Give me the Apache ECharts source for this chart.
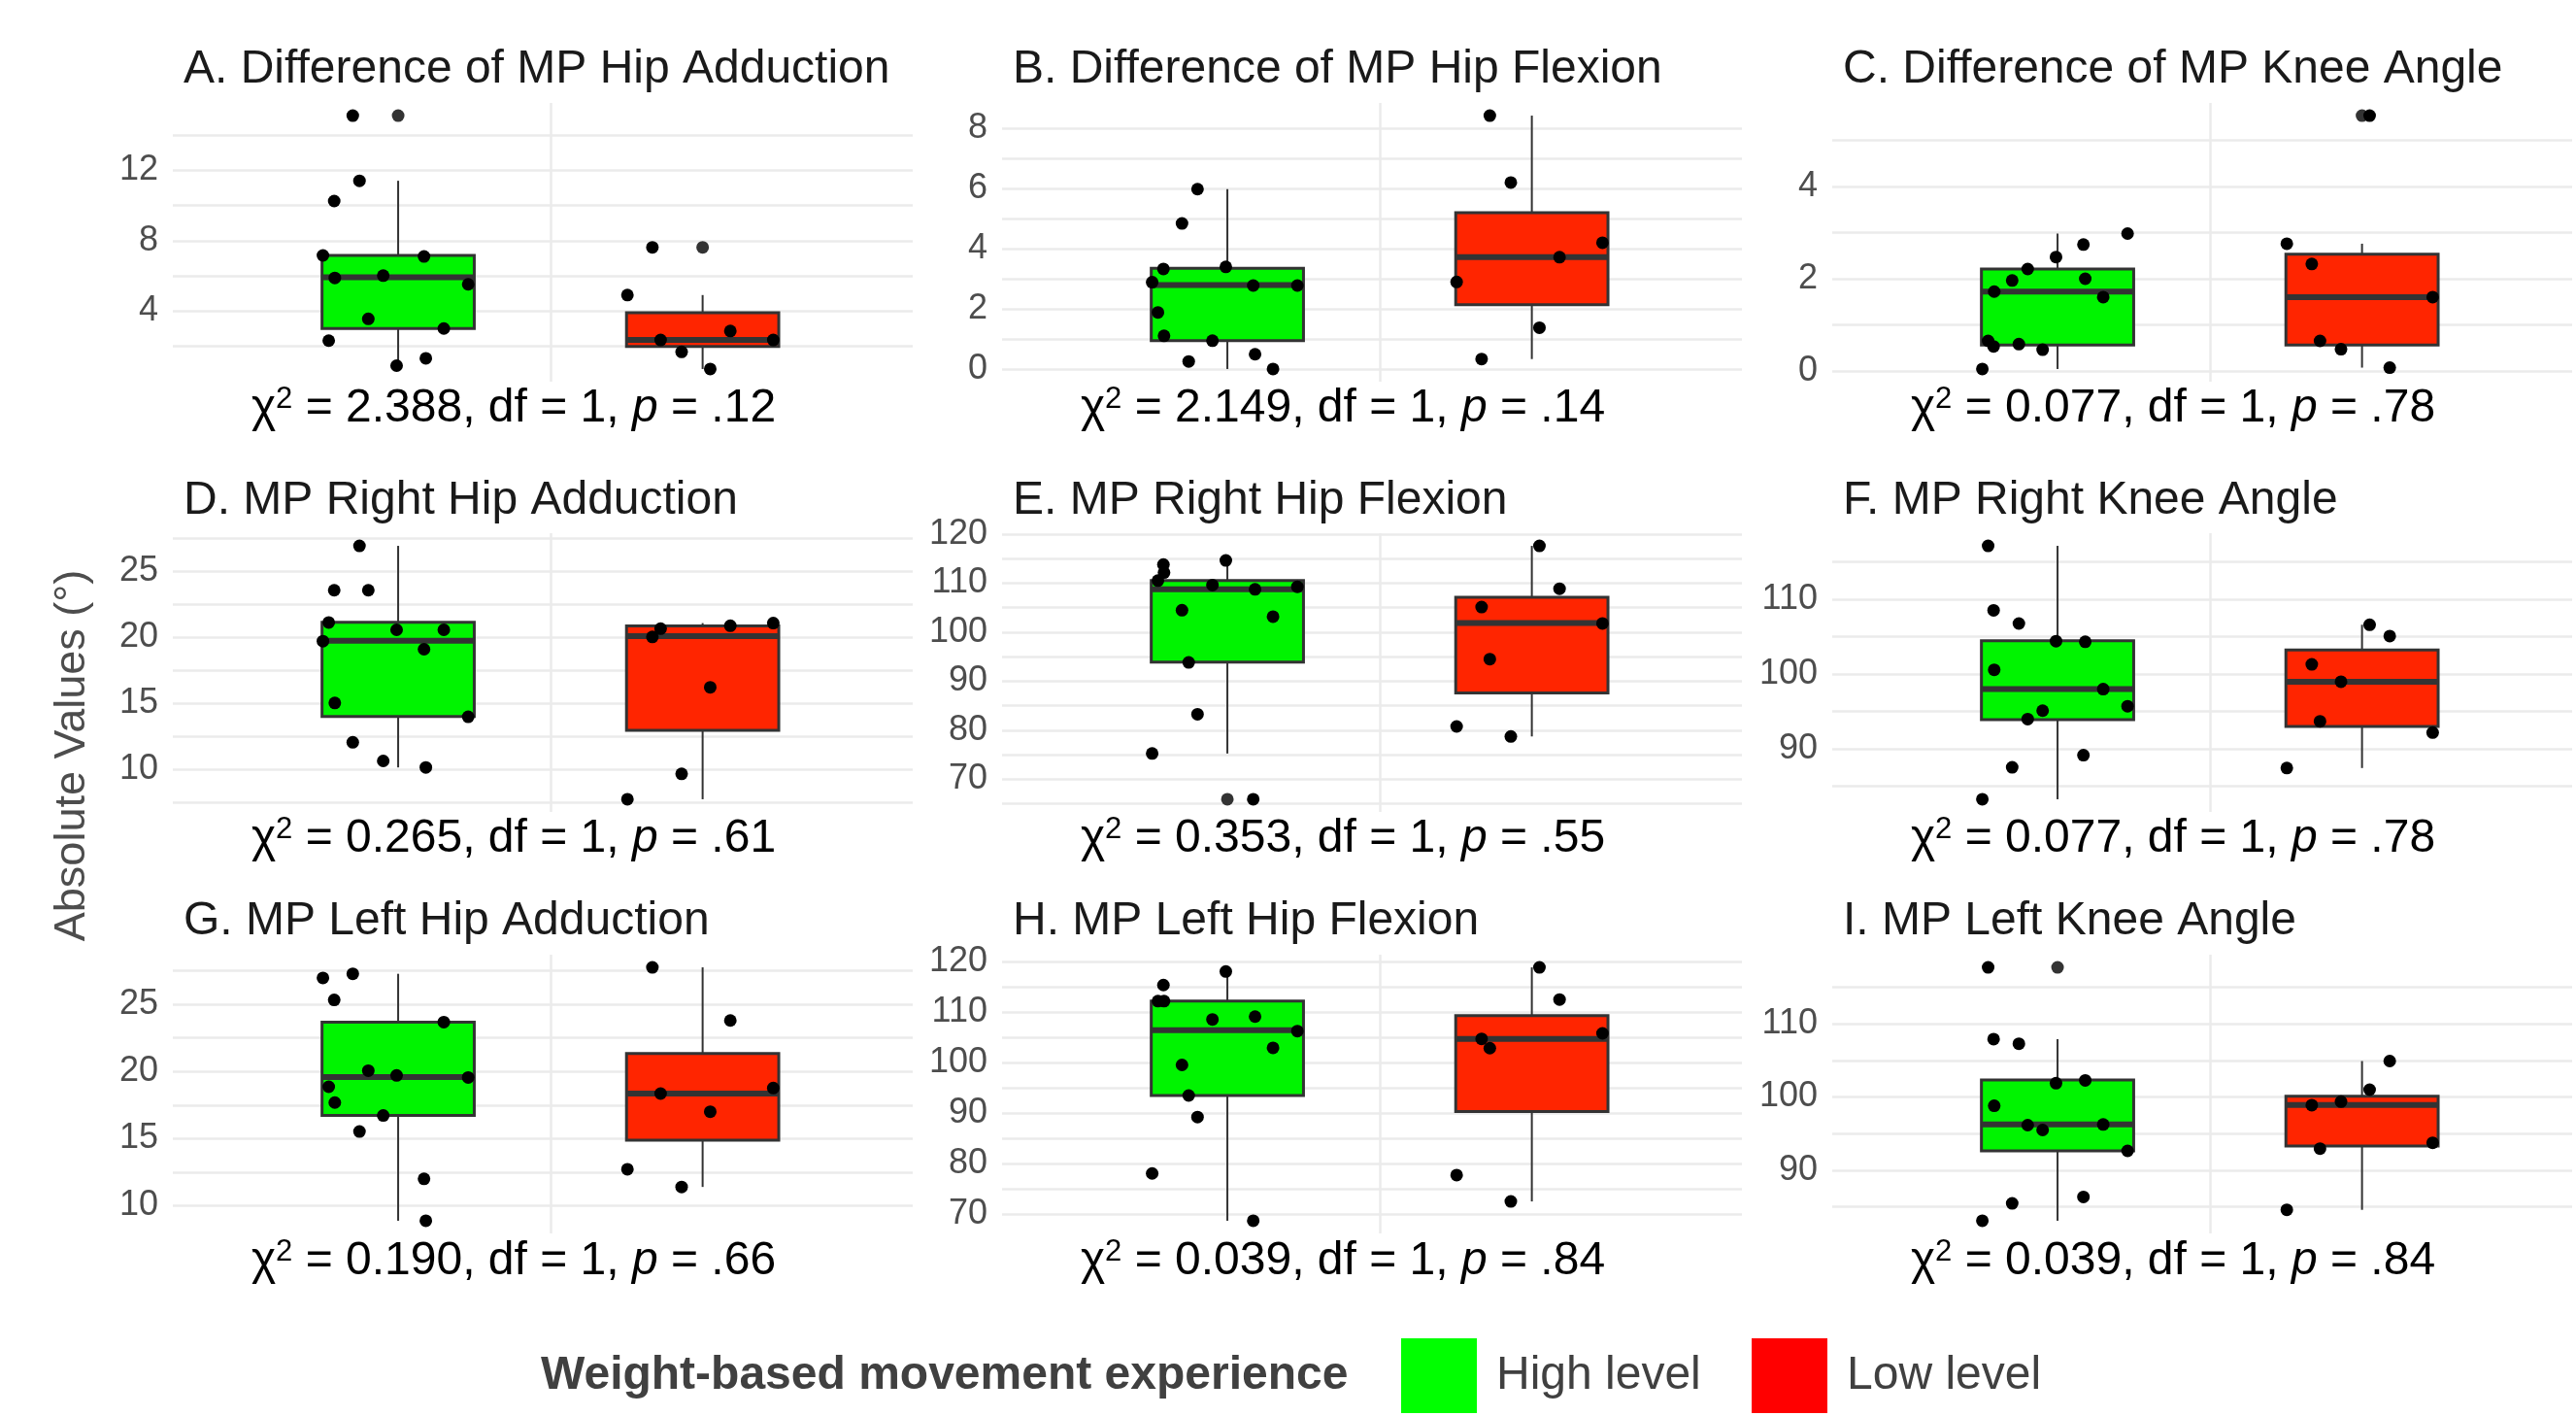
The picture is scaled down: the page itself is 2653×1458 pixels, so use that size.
<!DOCTYPE html>
<html>
<head>
<meta charset="utf-8">
<title>MP boxplots</title>
<script src="https://cdn.jsdelivr.net/npm/echarts@6/dist/echarts.min.js"></script>
<style>
html, body { margin: 0; padding: 0; background: #fff; }
#main { width: 2653px; height: 1458px; }
</style>
</head>
<body>
<div id="main"></div>
<script>
// groups (x position 1 = high, 2 = low)
var groups = ['High level', 'Low level'];
var legendTitle = 'Weight-based movement experience';
var yTitle = 'Absolute Values (°)';

// A. Difference of MP Hip Adduction
var aHigh = [15.1, 11.4, 10.25, 7.16, 7.1, 5.88, 6.01, 5.52, 3.56, 3.01, 2.32, 1.32, 0.9];
var aHighX = [-0.149, -0.127, -0.21, -0.247, 0.085, -0.208, -0.049, 0.23, -0.098, 0.15, -0.228, 0.091, -0.005];
var aLow = [7.62, 4.91, 2.87, 2.36, 2.36, 1.68, 0.71];
var aLowX = [-0.165, -0.247, 0.091, -0.138, 0.232, -0.069, 0.025];
var aBox = [[0.9, 3.01, 5.92, 7.16, 11.4], [0.71, 1.99, 2.36, 3.91, 4.91]];
var aOut = [[15.1], [7.62]];
var aTicks = [4, 8, 12];
var aMinor = [2, 6, 10, 14];

// B. Difference of MP Hip Flexion
var bHigh = [5.99, 4.85, 3.34, 3.41, 2.9, 2.79, 2.79, 1.9, 1.12, 0.96, 0.51, 0.27, 0.02];
var bHighX = [-0.098, -0.149, -0.21, -0.005, -0.247, 0.085, 0.23, -0.228, -0.208, -0.049, 0.091, -0.127, 0.15];
var bLow = [8.43, 6.21, 4.21, 3.73, 2.91, 1.39, 0.35];
var bLowX = [-0.138, -0.069, 0.232, 0.091, -0.247, 0.025, -0.165];
var bBox = [[0.02, 0.96, 2.81, 3.36, 5.99], [0.35, 2.15, 3.73, 5.21, 8.43]];
var bOut = [[], []];
var bTicks = [0, 2, 4, 6, 8];
var bMinor = [1, 3, 5, 7];

// C. Difference of MP Knee Angle
var cHigh = [2.98, 2.74, 2.47, 2.21, 1.96, 2.0, 1.72, 1.6, 0.65, 0.53, 0.58, 0.46, 0.04];
var cHighX = [0.23, 0.085, -0.005, -0.098, -0.149, 0.091, -0.208, 0.15, -0.228, -0.21, -0.127, -0.049, -0.247];
var cLow = [5.54, 2.76, 2.32, 1.6, 0.65, 0.47, 0.07];
var cLowX = [0.025, -0.247, -0.165, 0.232, -0.138, -0.069, 0.091];
var cBox = [[0.04, 0.56, 1.72, 2.21, 2.98], [0.07, 0.56, 1.6, 2.53, 2.76]];
var cOut = [[], [5.54]];
var cTicks = [0, 2, 4];
var cMinor = [1, 3, 5];

// D. MP Right Hip Adduction
var dHigh = [26.95, 23.59, 23.59, 21.15, 20.59, 20.59, 19.73, 19.12, 15.05, 14.0, 12.07, 10.66, 10.17];
var dHighX = [-0.127, -0.21, -0.098, -0.228, -0.005, 0.15, -0.247, 0.085, -0.208, 0.23, -0.149, -0.049, 0.091];
var dLow = [21.1, 20.9, 20.68, 20.05, 16.24, 9.68, 7.76];
var dLowX = [0.232, 0.091, -0.138, -0.165, 0.025, -0.069, -0.247];
var dBox = [[10.17, 14.02, 19.76, 21.17, 26.95], [7.76, 12.98, 20.12, 20.88, 21.1]];
var dOut = [[], []];
var dTicks = [10, 15, 20, 25];
var dMinor = [7.5, 12.5, 17.5, 22.5, 27.5];

// E. MP Right Hip Flexion
var eHigh = [65.93, 114.6, 113.77, 112.13, 110.49, 109.57, 108.71, 109.24, 104.45, 103.14, 93.82, 83.25, 75.25];
var eHighX = [0.085, -0.005, -0.21, -0.208, -0.228, -0.049, 0.091, 0.23, -0.149, 0.15, -0.127, -0.098, -0.247];
var eLow = [117.57, 108.84, 105.1, 101.76, 94.48, 80.76, 78.73];
var eLowX = [0.025, 0.091, -0.165, 0.232, -0.138, -0.247, -0.069];
var eBox = [[75.25, 93.88, 108.71, 110.49, 114.6], [78.73, 87.59, 101.82, 107.07, 117.57]];
var eOut = [[65.93], []];
var eTicks = [70, 80, 90, 100, 110, 120];
var eMinor = [65, 75, 85, 95, 105, 115];

// F. MP Right Knee Angle
var fHigh = [117.1, 108.49, 106.73, 104.37, 104.28, 100.54, 97.96, 95.68, 95.08, 93.96, 89.14, 87.51, 83.25];
var fHighX = [-0.228, -0.21, -0.127, -0.005, 0.091, -0.208, 0.15, 0.23, -0.049, -0.098, 0.085, -0.149, -0.247];
var fLow = [106.56, 105.05, 101.27, 98.95, 93.66, 92.15, 87.42];
var fLowX = [0.025, 0.091, -0.165, -0.069, -0.138, 0.232, -0.247];
var fBox = [[83.25, 93.87, 97.96, 104.41, 117.1], [87.42, 92.97, 98.95, 103.2, 106.56]];
var fOut = [[], []];
var fTicks = [90, 100, 110];
var fMinor = [85, 95, 105, 115];

// G. MP Left Hip Adduction
var gHigh = [27.28, 26.97, 25.33, 23.68, 20.06, 19.7, 19.55, 18.86, 17.68, 16.72, 15.52, 11.99, 8.87];
var gHighX = [-0.149, -0.247, -0.21, 0.15, -0.098, -0.005, 0.23, -0.228, -0.208, -0.049, -0.127, 0.085, 0.091];
var gLow = [27.76, 23.8, 18.76, 18.35, 17.0, 12.71, 11.39];
var gLowX = [-0.165, 0.091, 0.232, -0.138, 0.025, -0.247, -0.069];
var gBox = [[8.87, 16.72, 19.58, 23.68, 27.28], [11.39, 14.87, 18.35, 21.33, 27.76]];
var gOut = [[], []];
var gTicks = [10, 15, 20, 25];
var gMinor = [12.5, 17.5, 22.5, 27.5];

// H. MP Left Hip Flexion
var hHigh = [118.03, 115.35, 112.17, 112.17, 109.11, 108.54, 106.24, 102.93, 99.55, 93.5, 89.24, 78.09, 68.73];
var hHighX = [-0.005, -0.21, -0.228, -0.208, 0.091, -0.049, 0.23, 0.15, -0.149, -0.127, -0.098, -0.247, 0.085];
var hLow = [118.85, 112.48, 105.8, 104.71, 102.87, 77.77, 72.55];
var hLowX = [0.025, 0.091, 0.232, -0.165, -0.138, -0.247, -0.069];
var hBox = [[68.73, 93.5, 106.43, 112.17, 118.03], [72.55, 90.32, 104.71, 109.3, 118.85]];
var hOut = [[], []];
var hTicks = [70, 80, 90, 100, 110, 120];
var hMinor = [75, 85, 95, 105, 115];

// I. MP Left Knee Angle
var iHigh = [117.69, 107.89, 107.27, 101.87, 102.26, 98.79, 96.15, 95.49, 96.24, 92.64, 86.35, 85.47, 83.1];
var iHighX = [-0.228, -0.21, -0.127, -0.005, 0.091, -0.208, -0.098, -0.049, 0.15, 0.23, 0.085, -0.149, -0.247];
var iLow = [104.9, 100.99, 99.36, 98.88, 93.74, 92.95, 84.59];
var iLowX = [0.091, 0.025, -0.069, -0.165, 0.232, -0.138, -0.247];
var iBox = [[83.1, 92.64, 96.24, 102.31, 107.89], [84.59, 93.3, 98.92, 100.11, 104.9]];
var iOut = [[117.69], []];
var iTicks = [90, 100, 110];
var iMinor = [85, 95, 105, 115];

var panels = [
    { title: 'A. Difference of MP Hip Adduction', chi: '2.388', p: '.12', high: aHigh, highX: aHighX, low: aLow, lowX: aLowX, box: aBox, out: aOut, ticks: aTicks, minor: aMinor },
    { title: 'B. Difference of MP Hip Flexion', chi: '2.149', p: '.14', high: bHigh, highX: bHighX, low: bLow, lowX: bLowX, box: bBox, out: bOut, ticks: bTicks, minor: bMinor },
    { title: 'C. Difference of MP Knee Angle', chi: '0.077', p: '.78', high: cHigh, highX: cHighX, low: cLow, lowX: cLowX, box: cBox, out: cOut, ticks: cTicks, minor: cMinor },
    { title: 'D. MP Right Hip Adduction', chi: '0.265', p: '.61', high: dHigh, highX: dHighX, low: dLow, lowX: dLowX, box: dBox, out: dOut, ticks: dTicks, minor: dMinor },
    { title: 'E. MP Right Hip Flexion', chi: '0.353', p: '.55', high: eHigh, highX: eHighX, low: eLow, lowX: eLowX, box: eBox, out: eOut, ticks: eTicks, minor: eMinor },
    { title: 'F. MP Right Knee Angle', chi: '0.077', p: '.78', high: fHigh, highX: fHighX, low: fLow, lowX: fLowX, box: fBox, out: fOut, ticks: fTicks, minor: fMinor },
    { title: 'G. MP Left Hip Adduction', chi: '0.190', p: '.66', high: gHigh, highX: gHighX, low: gLow, lowX: gLowX, box: gBox, out: gOut, ticks: gTicks, minor: gMinor },
    { title: 'H. MP Left Hip Flexion', chi: '0.039', p: '.84', high: hHigh, highX: hHighX, low: hLow, lowX: hLowX, box: hBox, out: hOut, ticks: hTicks, minor: hMinor },
    { title: 'I. MP Left Knee Angle', chi: '0.039', p: '.84', high: iHigh, highX: iHighX, low: iLow, lowX: iLowX, box: iBox, out: iOut, ticks: iTicks, minor: iMinor }
];

// layout
var colLeft = [178, 1032, 1887];
var rowTop = [106, 549, 983];
var plotW = 762, plotH = 287;
var font = '"Liberation Sans", Arial, Helvetica, sans-serif';
var boxFill = ['#00F400', '#FF2500'];
var keyFill = ['#00FF00', '#FF0000'];
var gridColor = '#EBEBEB';
var boxHalf = 0.25;

var myChart = echarts.init(document.getElementById('main'));

function renderBox(params, api) {
    var x = api.value(0);
    var g = api.value(6);
    var pLo = api.coord([x, api.value(1)]);
    var pQ1 = api.coord([x, api.value(2)]);
    var pMd = api.coord([x, api.value(3)]);
    var pQ3 = api.coord([x, api.value(4)]);
    var pHi = api.coord([x, api.value(5)]);
    var half = api.size([boxHalf, 0])[0];
    var thin = { stroke: '#333333', lineWidth: 2 };
    return {
        type: 'group',
        children: [
            { type: 'line', shape: { x1: pLo[0], y1: pLo[1], x2: pQ1[0], y2: pQ1[1] }, style: thin },
            { type: 'line', shape: { x1: pQ3[0], y1: pQ3[1], x2: pHi[0], y2: pHi[1] }, style: thin },
            { type: 'rect', shape: { x: pQ3[0] - half, y: pQ3[1], width: half * 2, height: pQ1[1] - pQ3[1] },
              style: { fill: boxFill[g], stroke: '#333333', lineWidth: 3 } },
            { type: 'line', shape: { x1: pMd[0] - half, y1: pMd[1], x2: pMd[0] + half, y2: pMd[1] },
              style: { stroke: '#333333', lineWidth: 6 } }
        ]
    };
}

var grids = [], xAxes = [], yAxes = [], series = [], graphics = [];

panels.forEach(function (p, i) {
    var col = i % 3, row = Math.floor(i / 3);
    var left = colLeft[col], top = rowTop[row];
    grids.push({ left: left, top: top, width: plotW, height: plotH, containLabel: false });

    var all = p.high.concat(p.low, p.out[0], p.out[1]);
    var lo = Math.min.apply(null, all), hi = Math.max.apply(null, all);
    var pad = (hi - lo) * 0.05;

    xAxes.push({
        gridIndex: i, type: 'value', min: 0.26, max: 2.69,
        axisLine: { show: false },
        axisTick: { show: false, customValues: [1.5] },
        axisLabel: { show: false },
        splitLine: { show: true, lineStyle: { color: gridColor, width: 2.5 } }
    });
    yAxes.push({
        gridIndex: i, type: 'value', min: lo - pad, max: hi + pad,
        axisLine: { show: false },
        axisTick: { show: false, customValues: p.ticks.concat(p.minor) },
        axisLabel: { customValues: p.ticks, fontSize: 36, color: '#4D4D4D', fontFamily: font, margin: 15 },
        splitLine: { show: true, lineStyle: { color: gridColor, width: 2.5 } }
    });

    var boxData = p.box.map(function (b, g) {
        return [g + 1, b[0], b[1], b[2], b[3], b[4], g];
    });
    series.push({
        type: 'custom', xAxisIndex: i, yAxisIndex: i, renderItem: renderBox,
        data: boxData, silent: true, clip: false, z: 2,
        encode: { x: 0, y: [1, 2, 3, 4, 5] }
    });

    var outData = [];
    p.out.forEach(function (vals, g) {
        vals.forEach(function (v) { outData.push([g + 1, v]); });
    });
    series.push({
        type: 'scatter', xAxisIndex: i, yAxisIndex: i, data: outData,
        symbolSize: 13, itemStyle: { color: '#333333', opacity: 1 }, silent: true, z: 3
    });

    var pts = [];
    p.high.forEach(function (v, k) { pts.push([1 + p.highX[k], v]); });
    p.low.forEach(function (v, k) { pts.push([2 + p.lowX[k], v]); });
    series.push({
        type: 'scatter', xAxisIndex: i, yAxisIndex: i, data: pts,
        symbolSize: 13, itemStyle: { color: '#000000', opacity: 1 }, silent: true, z: 4
    });

    // panel title
    graphics.push({
        type: 'text', x: left + 11, y: [72, 516, 949][row],
        style: { text: p.title, fontSize: 48, fontFamily: font, fill: '#1A1A1A', align: 'left', verticalAlign: 'middle' }
    });
    // chi-square line under the panel
    graphics.push({
        type: 'text', x: left + plotW / 2 - 30, y: [421, 864, 1299][row],
        style: {
            text: '{n|χ}{s|2}{n| = ' + p.chi + ', df = 1, }{i|p}{n| = ' + p.p + '}',
            align: 'center', verticalAlign: 'middle',
            rich: {
                n: { fontSize: 48, fontFamily: font, fill: '#000000' },
                s: { fontSize: 31, fontFamily: font, fill: '#000000', padding: [0, 0, 19, 0] },
                i: { fontSize: 48, fontFamily: font, fill: '#000000', fontStyle: 'italic' }
            }
        }
    });
});

// y axis title
graphics.push({
    type: 'text', x: 75, y: 778, rotation: Math.PI / 2,
    style: { text: yTitle, fontSize: 45, fontFamily: font, fill: '#4D4D4D', align: 'center', verticalAlign: 'middle' }
});

// legend
graphics.push({
    type: 'text', x: 557, y: 1417,
    style: { text: legendTitle, fontSize: 48, fontWeight: 'bold', fontFamily: font, fill: '#404040', align: 'left', verticalAlign: 'middle' }
});
var keyLeft = [1443, 1804];
groups.forEach(function (name, g) {
    graphics.push({
        type: 'rect', shape: { x: keyLeft[g], y: 1378, width: 78, height: 77 },
        style: { fill: keyFill[g] }
    });
    graphics.push({
        type: 'text', x: keyLeft[g] + 98, y: 1417,
        style: { text: name, fontSize: 48, fontFamily: font, fill: '#404040', align: 'left', verticalAlign: 'middle' }
    });
});

myChart.setOption({
    backgroundColor: '#ffffff',
    animation: false,
    grid: grids,
    xAxis: xAxes,
    yAxis: yAxes,
    series: series,
    graphic: graphics
});
</script>
</body>
</html>
